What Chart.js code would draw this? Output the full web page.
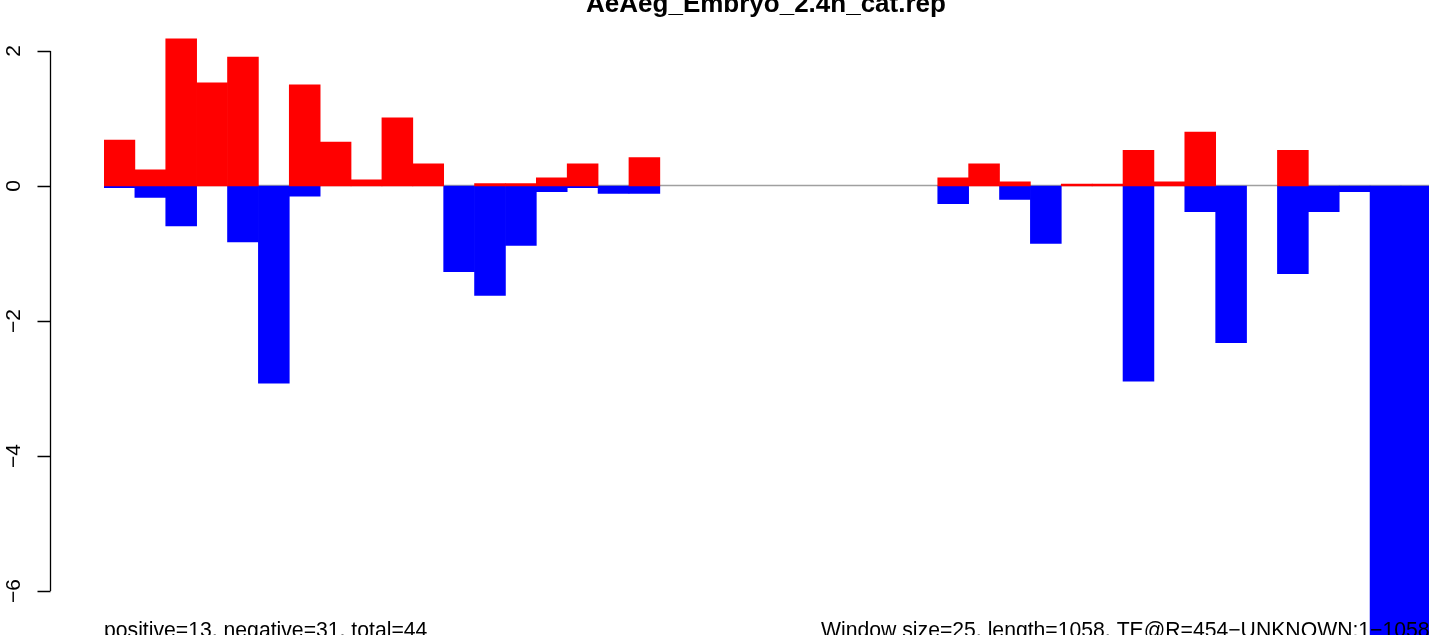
<!DOCTYPE html>
<html>
<head>
<meta charset="utf-8">
<title>AeAeg_Embryo_2.4h_cat.rep</title>
<script src="https://cdn.jsdelivr.net/npm/chart.js@4.4.1/dist/chart.umd.min.js"></script>
<style>
    html, body { margin: 0; padding: 0; background: #fff; overflow: hidden; }
    #wrap { position: relative; width: 1500px; height: 660px; }
</style>
</head>
<body>
<div id="wrap">
    <canvas id="repChart" width="1500" height="660"></canvas>
</div>
<script>
// windows along the element (43 windows of 25 bp)
const windows = Array.from({ length: 43 }, (_, i) => 'w' + (i + 1));

// positive strand scores (red)
const positiveScores = [
    0.68, 0.24, 2.18, 1.53, 1.91, 0, 1.50, 0.65, 0.09, 1.01, 0.33, 0, 0.035, 0.035, 0.12, 0.33, 0, 0.42,
    0, 0, 0, 0, 0, 0, 0, 0, 0,
    0.12, 0.33, 0.06, 0, 0.03, 0.03, 0.53, 0.06, 0.80, 0, 0, 0.53, 0, 0, 0, 0
];

// negative strand scores (blue)
const negativeScores = [
    -0.025, -0.17, -0.59, 0, -0.83, -2.92, -0.15, 0, 0, 0, 0, -1.27, -1.62, -0.88, -0.084, -0.025, -0.11, -0.11,
    0, 0, 0, 0, 0, 0, 0, 0, 0,
    -0.26, 0, -0.20, -0.85, 0, 0, -2.89, 0, -0.38, -2.32, 0, -1.30, -0.38, -0.084, -7.3, -7.3
];

const yTicks = [2, 0, -2, -4, -6];

const titleText = 'AeAeg_Embryo_2.4h_cat.rep';
const leftNote = 'positive=13, negative=31, total=44';
const rightNote = 'Window size=25, length=1058, TE@R=454\u2212UNKNOWN:1\u22121058';

const FONT = '"Liberation Sans", Arial, Helvetica, sans-serif';

// empty windows draw nothing (Chart.js would leave a hairline for 0)
const noZero = arr => arr.map(v => (v === 0 ? null : v));

// zero line under the bars
const zeroLine = {
    id: 'zeroLine',
    beforeDatasetsDraw(chart) {
        const { ctx, chartArea, scales } = chart;
        const y = scales.y.getPixelForValue(0);
        ctx.save();
        ctx.strokeStyle = '#a0a0a0';
        ctx.lineWidth = 1.4;
        ctx.beginPath();
        ctx.moveTo(chartArea.left, y - 0.5);
        ctx.lineTo(chartArea.right, y - 0.5);
        ctx.stroke();
        ctx.restore();
    }
};

// R style left axis, title and margin notes
const rDecor = {
    id: 'rDecor',
    afterDraw(chart) {
        const { ctx, scales } = chart;
        const ys = scales.y;
        const axisX = 50.5;
        ctx.save();
        ctx.strokeStyle = '#000';
        ctx.lineWidth = 1.3;
        ctx.beginPath();
        ctx.moveTo(axisX, ys.getPixelForValue(yTicks[0]));
        ctx.lineTo(axisX, ys.getPixelForValue(yTicks[yTicks.length - 1]));
        yTicks.forEach(t => {
            const py = Math.round(ys.getPixelForValue(t)) + 0.5;
            ctx.moveTo(axisX, py);
            ctx.lineTo(axisX - 13, py);
        });
        ctx.stroke();

        ctx.fillStyle = '#000';
        ctx.font = '21px ' + FONT;
        ctx.textAlign = 'center';
        ctx.textBaseline = 'alphabetic';
        yTicks.forEach(t => {
            const py = ys.getPixelForValue(t);
            const label = t < 0 ? '\u2212' + Math.abs(t) : String(t);
            ctx.save();
            ctx.translate(20, py);
            ctx.rotate(-Math.PI / 2);
            ctx.fillText(label, 0, 0);
            ctx.restore();
        });

        ctx.font = 'bold 26px ' + FONT;
        ctx.textAlign = 'center';
        ctx.fillText(titleText, 766, 12);

        ctx.font = '21.2px ' + FONT;
        ctx.textAlign = 'left';
        ctx.fillText(leftNote, 104, 637);
        ctx.fillText(rightNote, 821, 637);
        ctx.restore();
    }
};

new Chart(document.getElementById('repChart'), {
    type: 'bar',
    data: {
        labels: windows,
        datasets: [
            {
                label: 'positive',
                data: noZero(positiveScores),
                backgroundColor: '#ff0000',
                borderWidth: 0,
                grouped: false,
                barPercentage: 1,
                categoryPercentage: 1
            },
            {
                label: 'negative',
                data: noZero(negativeScores),
                backgroundColor: '#0000ff',
                borderWidth: 0,
                grouped: false,
                barPercentage: 1,
                categoryPercentage: 1
            }
        ]
    },
    options: {
        responsive: false,
        animation: false,
        devicePixelRatio: 1,
        layout: {
            padding: { left: 104, right: 68.16, top: 17.25, bottom: 1.5 }
        },
        plugins: {
            legend: { display: false },
            tooltip: { enabled: false },
            title: { display: false }
        },
        scales: {
            x: { display: false, offset: true, grid: { display: false } },
            y: { display: false, min: -7, max: 2.5, grid: { display: false } }
        }
    },
    plugins: [zeroLine, rDecor]
});
</script>
</body>
</html>
